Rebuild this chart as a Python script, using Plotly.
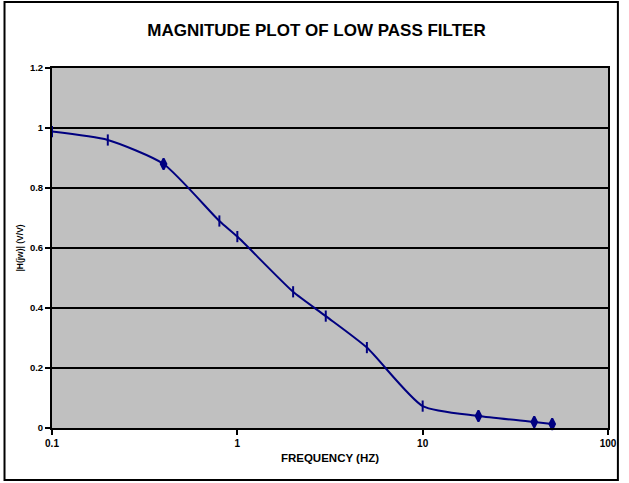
import plotly.graph_objects as go

freq_hz = [0.1, 0.2, 0.4, 0.8, 1, 2, 3, 5, 10, 20, 40, 50]
magnitude = [0.988, 0.96, 0.88, 0.69, 0.638, 0.454, 0.373, 0.268, 0.073, 0.04, 0.02, 0.013]
x_tick_vals = [0.1, 1, 10, 100]
x_tick_text = ["0.1", "1", "10", "100"]
y_tick_vals = [0, 0.2, 0.4, 0.6, 0.8, 1, 1.2]
y_tick_text = ["0", "0.2", "0.4", "0.6", "0.8", "1", "1.2"]

marker_symbols = ["line-ns", "line-ns", "diamond-tall", "line-ns", "line-ns", "line-ns",
                  "line-ns", "line-ns", "line-ns", "diamond-tall", "diamond-tall", "diamond-tall"]

NAVY = "#000080"
FONT = "Liberation Sans, Arial, sans-serif"

fig = go.Figure()
fig.add_trace(go.Scatter(
    x=freq_hz, y=magnitude, mode="lines+markers",
    line=dict(color=NAVY, width=2, shape="spline", smoothing=0.6),
    marker=dict(symbol=marker_symbols, size=8, color=NAVY,
                line=dict(color=NAVY, width=2)),
    showlegend=False, cliponaxis=False,
))

fig.update_layout(
    width=629, height=483,
    margin=dict(l=52, r=15, t=68, b=55),
    paper_bgcolor="white", plot_bgcolor="#C0C0C0",
    title=dict(text="<b>MAGNITUDE PLOT OF LOW PASS FILTER</b>",
               x=316.5 / 629, xref="container", xanchor="center",
               y=1 - 30 / 483, yref="container", yanchor="middle",
               font=dict(family=FONT, size=17, color="black")),
    font=dict(family=FONT, color="black"),
    xaxis=dict(type="log", range=[-1, 2], tickvals=x_tick_vals, ticktext=x_tick_text,
               showgrid=False, zeroline=False,
               showline=True, linecolor="black", linewidth=2, mirror=True,
               ticks="outside", ticklen=5, tickwidth=2, tickcolor="black",
               tickfont=dict(family=FONT, size=10, weight="bold"),
               title=dict(text="<b>FREQUENCY (HZ)</b>", font=dict(family=FONT, size=11.5), standoff=6)),
    yaxis=dict(range=[0, 1.2], tickvals=y_tick_vals, ticktext=y_tick_text,
               showgrid=True, gridcolor="black", gridwidth=2, zeroline=False,
               showline=True, linecolor="black", linewidth=2, mirror=True,
               ticks="outside", ticklen=5, tickwidth=2, tickcolor="black",
               tickfont=dict(family=FONT, size=9.5, weight="bold"),
               title=dict(text="<b>|H(jw)| (V/V)</b>", font=dict(family=FONT, size=8.5), standoff=5)),
    shapes=[dict(type="rect", xref="paper", yref="paper",
                 x0=(4 - 52) / 562, x1=(624 - 52) / 562,
                 y0=(428 - 480) / 360, y1=(428 - 2) / 360,
                 line=dict(color="black", width=2), fillcolor="rgba(0,0,0,0)", layer="above")],
)

fig.write_html("out.html", config={"displayModeBar": False},
               post_script="document.body.style.margin='0';document.body.style.overflow='hidden';")
